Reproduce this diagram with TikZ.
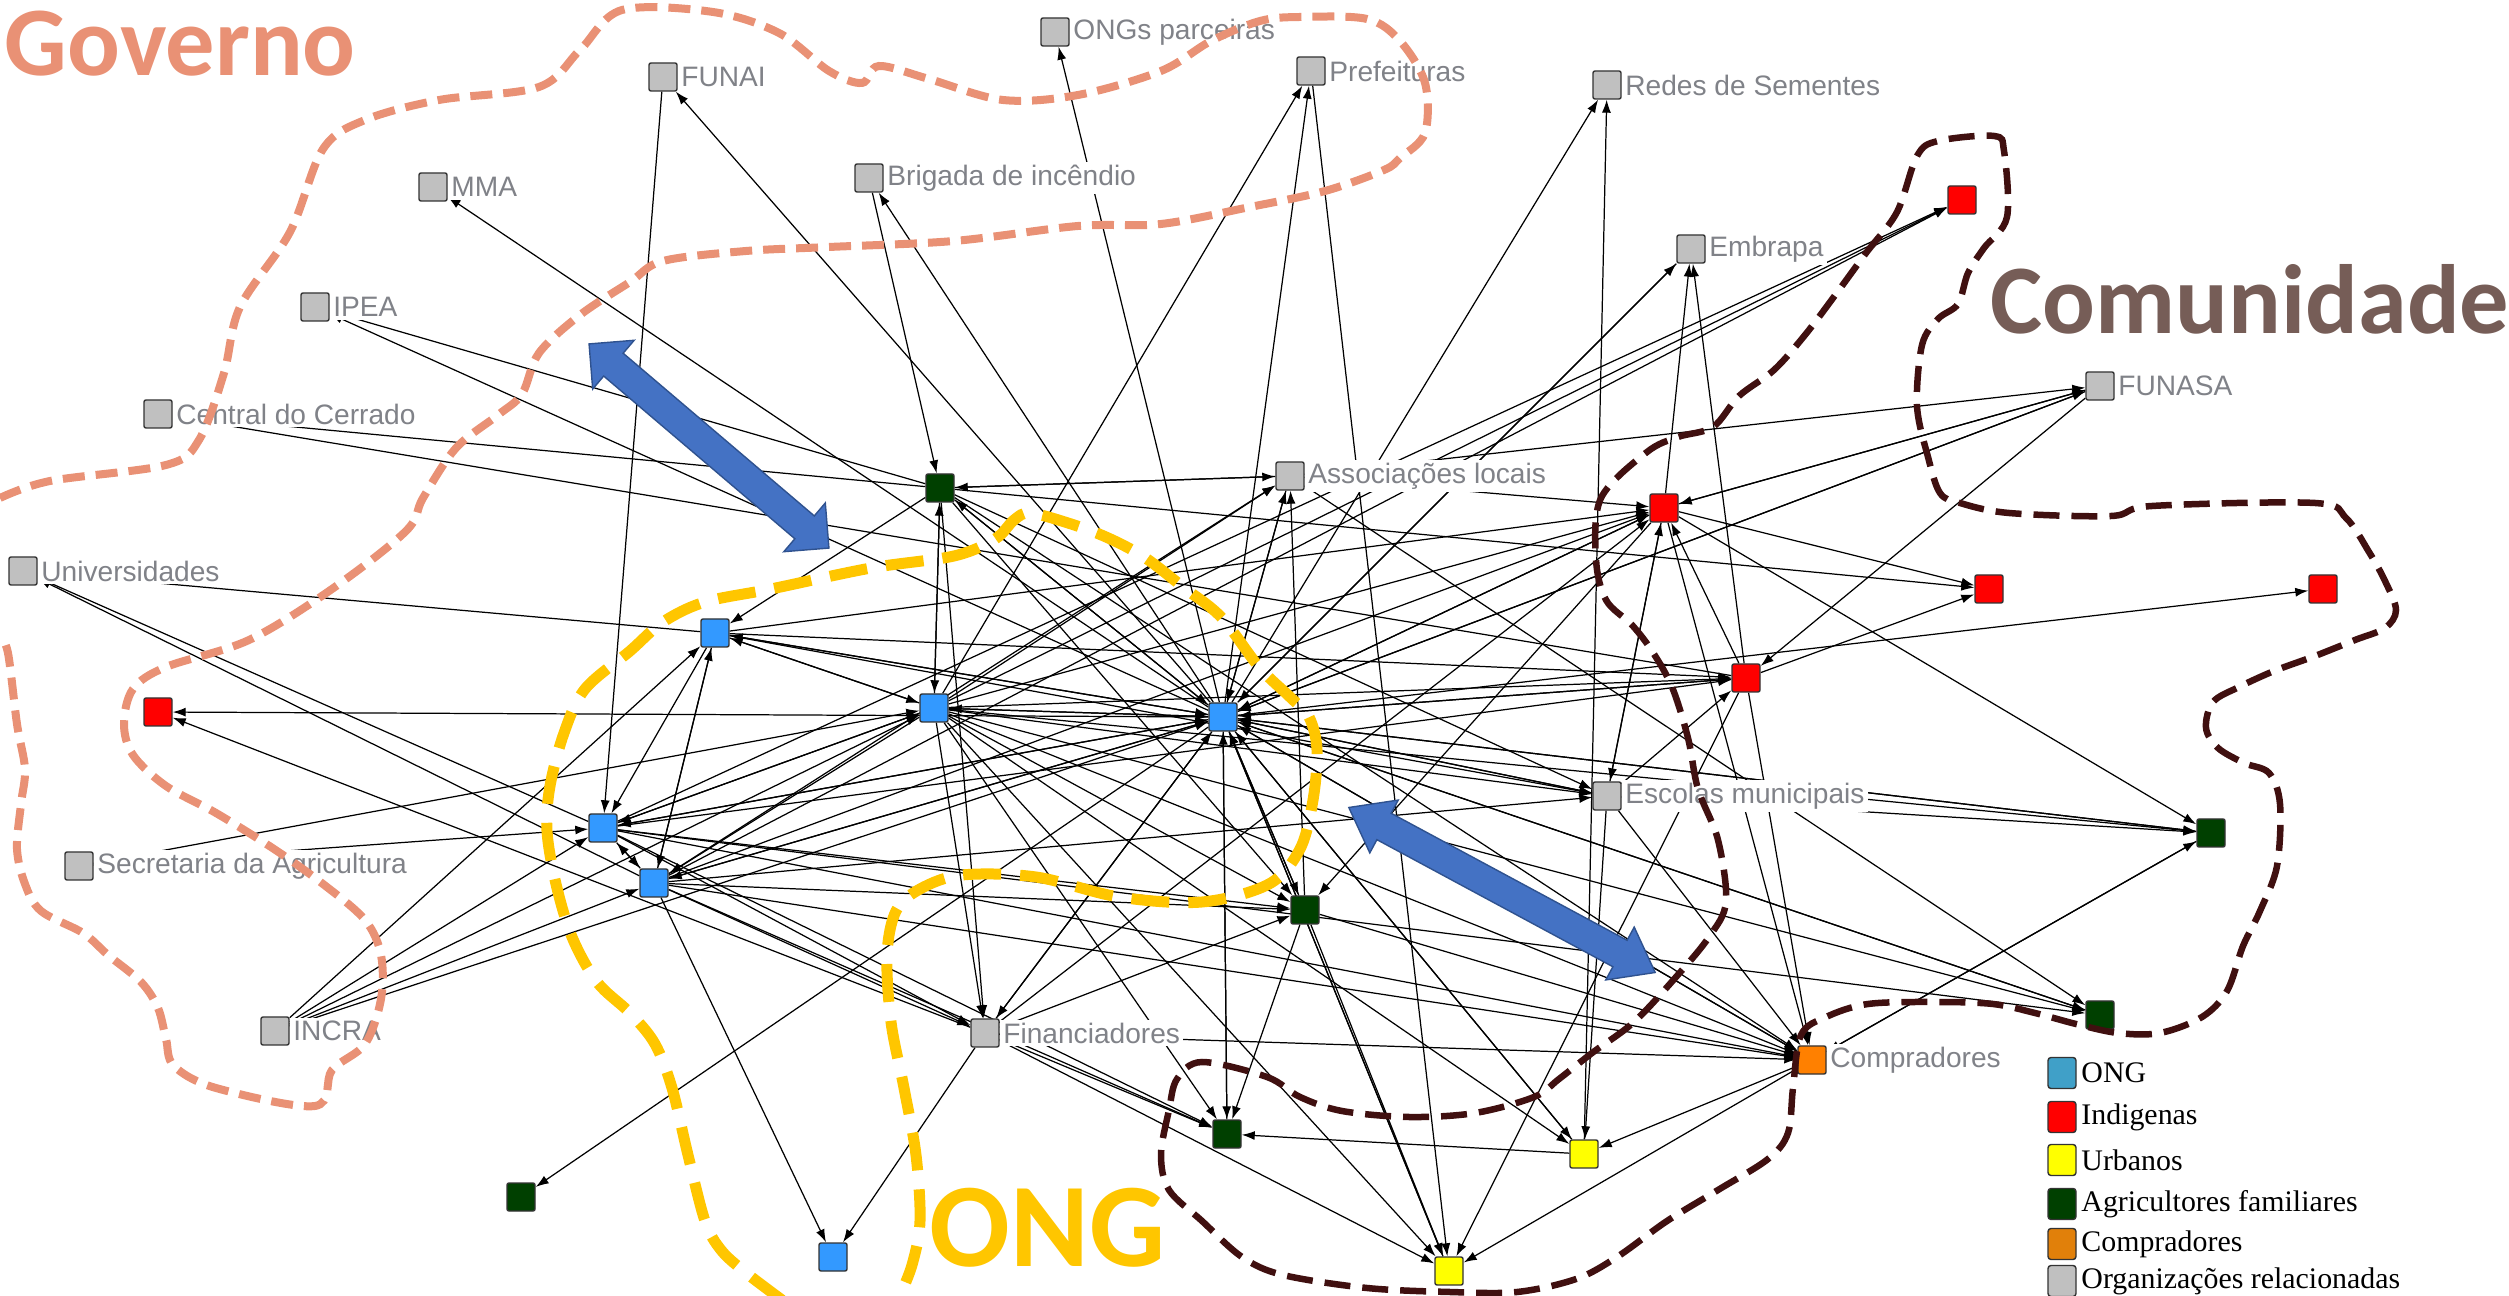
\documentclass[tikz,border=0pt]{standalone}
\usepackage{fontspec}
\setmainfont{Liberation Sans}
\newfontfamily\calibrifont{Carlito}
\newfontfamily\keyfont{Liberation Serif}
\usetikzlibrary{arrows.meta}
\pgfdeclarelayer{background}
\pgfsetlayers{background,main}

\definecolor{ongblue}{RGB}{51,153,255}
\definecolor{indred}{RGB}{255,0,0}
\definecolor{urbyellow}{RGB}{255,255,0}
\definecolor{agrgreen}{RGB}{0,64,0}
\definecolor{buyorange}{RGB}{255,128,0}
\definecolor{orggray}{RGB}{192,192,192}
\definecolor{keyblue}{RGB}{64,160,200}
\definecolor{keyorange}{RGB}{225,128,10}
\definecolor{labelgray}{RGB}{128,130,136}
\definecolor{govsalmon}{RGB}{233,145,117}
\definecolor{onggold}{RGB}{255,198,0}
\definecolor{combrown}{RGB}{64,16,16}
\definecolor{comtext}{RGB}{118,93,87}
\definecolor{arrowfill}{RGB}{68,114,196}
\definecolor{arrowline}{RGB}{47,82,143}

\tikzset{
  actor/.style={rectangle, draw=black!80, line width=0.4pt, minimum size=2.8mm, inner sep=0pt, rounded corners=0.2mm},
  ongnode/.style={actor, fill=ongblue},
  indnode/.style={actor, fill=indred},
  urbnode/.style={actor, fill=urbyellow},
  agrnode/.style={actor, fill=agrgreen},
  buynode/.style={actor, fill=buyorange},
  orgnode/.style={actor, fill=orggray},
  orgname/.style={font=\fontsize{8}{9.6}\selectfont, text=labelgray, fill=white, inner sep=0.3mm},
  keybox/.style={actor, minimum width=2.8mm, minimum height=3.1mm, rounded corners=0.3mm},
  keyname/.style={font=\keyfont\fontsize{8.5}{10}\selectfont, inner sep=0.4mm},
  link/.style={line width=0.35pt, -{Latex[length=1.3mm,width=0.9mm]}},
  govline/.style={draw=govsalmon, line width=0.8mm, dash pattern=on 2.2mm off 1.1mm},
  ongline/.style={draw=onggold, line width=1.1mm, dash pattern=on 3.8mm off 1.9mm},
  comline/.style={draw=combrown, line width=0.65mm, dash pattern=on 2.6mm off 1.2mm},
  bigarrow/.style={fill=arrowfill, draw=arrowline, line width=0.4pt},
  groupname/.style={font=\calibrifont\bfseries, anchor=base west, inner sep=0pt}
}

\newcommand{\orgat}[3]{\node[orgnode, label={[orgname]right:#3}] (#1) at (#2) {};}
\newcommand{\fatarrow}[6]{%
  \filldraw[bigarrow, shift={(#1)}, rotate=#2]
    ({-#3/2},0) -- ({-#3/2+#4},#5) -- ({-#3/2+#4},#6) -- ({#3/2-#4},#6) -- ({#3/2-#4},#5)
    -- ({#3/2},0) -- ({#3/2-#4},-#5) -- ({#3/2-#4},-#6) -- ({-#3/2+#4},-#6) -- ({-#3/2+#4},-#5) -- cycle;}

\begin{document}
\begin{tikzpicture}[x=0.1mm,y=-0.1mm]
\useasboundingbox (0,0) rectangle (2509,1296);

\orgat{ongpar}{1055,32}{ONGs parceiras}
\orgat{funai}{663,77}{FUNAI}
\orgat{pref}{1311,71}{Prefeituras}
\orgat{redes}{1607,85}{Redes de Sementes}
\orgat{mma}{433,187}{MMA}
\orgat{brigada}{869,178}{Brigada de incêndio}
\orgat{embrapa}{1691,249}{Embrapa}
\orgat{ipea}{315,307}{IPEA}
\orgat{funasa}{2100,386}{FUNASA}
\orgat{central}{158,414}{Central do Cerrado}
\orgat{assoc}{1290,476}{Associações locais}
\orgat{univ}{23,571}{Universidades}
\orgat{escolas}{1607,796}{Escolas municipais}
\orgat{secret}{79,866}{Secretaria da Agricultura}
\orgat{incra}{275,1031}{INCRA}
\orgat{financ}{985,1033}{Financiadores}
\node[buynode, label={[orgname]right:Compradores}] (compr) at (1812,1060) {};

\node[indnode] (ind1) at (1962,200) {};
\node[indnode] (ind2) at (1664,508) {};
\node[indnode] (ind3) at (1989,589) {};
\node[indnode] (ind4) at (2323,589) {};
\node[indnode] (ind5) at (1746,678) {};
\node[indnode] (ind6) at (158,712) {};

\node[ongnode] (ong1) at (715,633) {};
\node[ongnode] (ong2) at (934,708) {};
\node[ongnode] (ong3) at (1223,717) {};
\node[ongnode] (ong4) at (603,828) {};
\node[ongnode] (ong5) at (654,883) {};
\node[ongnode] (ong6) at (833,1257) {};

\node[agrnode] (agr1) at (940,488) {};
\node[agrnode] (agr2) at (1305,910) {};
\node[agrnode] (agr3) at (2211,833) {};
\node[agrnode] (agr4) at (2100,1015) {};
\node[agrnode] (agr5) at (1227,1134) {};
\node[agrnode] (agr6) at (521,1197) {};

\node[urbnode] (urb1) at (1584,1154) {};
\node[urbnode] (urb2) at (1449,1271) {};

\begin{pgfonlayer}{background}
\foreach \from/\to in {
  ong3/funai, funai/ong4, ong3/mma, agr1/ipea, ong3/ipea, agr1/central, ind5/central,
  ong4/univ, ong5/univ, ong1/univ, ong3/ind6, financ/ind6, secret/ong2, secret/ong4,
  incra/ong1, incra/ong4, incra/ong5, incra/ong2, incra/ong3, brigada/agr1, ong3/brigada,
  ong3/ongpar, ong2/pref, ong3/pref, pref/urb2, urb1/redes, ong3/redes,
  ind2/embrapa, ind5/embrapa, ong3/embrapa,
  assoc/funasa, ind2/funasa, funasa/ind2, ong3/funasa, funasa/ind5,
  ong4/ind1, ong5/ind1, ong2/ind1, ind2/ind3, agr1/ind3, ind5/ind3, ong3/ind4,
  assoc/ind2, ong3/ind2, ong2/ind2, ong1/ind2, ong5/ind2, escolas/ind2, ind2/escolas,
  ind5/ind2, ind2/agr3, ind2/compr, ind2/ong3,
  escolas/ind5, ong3/ind5, ong2/ind5, ong1/ind5, ind5/compr, ong4/ind5,
  ong3/escolas, ong2/escolas, ong1/escolas, ong5/escolas, agr1/escolas, escolas/agr3, escolas/urb1,
  ong3/agr3, ong2/agr3, compr/agr3, agr3/compr,
  ong3/agr4, ong2/agr4, assoc/agr4, ong4/agr4,
  ong3/assoc, agr1/assoc, assoc/agr1, ong2/assoc, ong5/assoc, agr2/assoc, assoc/ong3,
  ong3/agr1, agr1/ong3, agr1/ong2, ong2/agr1, agr1/ong1, agr1/financ, agr1/compr, agr1/agr2,
  ong2/ong1, ong1/ong2, ong3/ong1, ong1/ong3, ong1/ong4, ong1/ong5, ong5/ong1,
  ong2/ong4, ong2/ong5, ong4/ong2, ong3/ong4, ong3/ong5, ong5/ong3, ong4/ong3,
  ong4/ong5, ong5/ong4, ong3/ong2, ong2/ong3,
  ong5/financ, ong4/financ, ong3/financ, financ/ong3, ong2/financ, financ/ong6, ong5/ong6,
  financ/agr5, financ/compr, financ/urb2, financ/ind2, financ/agr2,
  ong3/agr5, agr2/agr5, urb1/agr5, ong5/agr5, ong2/agr5, ong4/agr5,
  ong3/agr2, ong4/agr2, ong5/agr2, ind2/agr2, agr2/urb2, agr2/compr, ong2/agr2,
  ong5/compr, ong2/compr, ong3/compr, ong4/compr, compr/urb1, compr/urb2, escolas/compr,
  ong3/urb1, ong2/urb1, ong3/urb2, ong2/urb2, ind5/urb2, ong3/agr6,
  escolas/ong3, agr2/ong3, compr/ong3, agr5/ong3, urb2/ong3, ind5/ong3, agr3/ong3,
  funasa/ong3, embrapa/ong3, agr4/ong3, urb1/ong3}
  \draw[link] (\from) -- (\to);
\end{pgfonlayer}

\draw[govline] plot[smooth, tension=0.55] coordinates {(0,498) (50,481) (166,465) (199,440) (224,373) (240,307) (290,232) (323,149) (365,120) (439,100) (539,87) (580,50) (622,10) (713,12) (779,33) (829,71) (862,83) (879,66) (929,79) (1003,100) (1078,95) (1161,71) (1211,41) (1260,21) (1300,17) (1367,19) (1400,41) (1425,83) (1425,133) (1400,158) (1384,170) (1325,191) (1250,207) (1161,224) (1078,226) (954,241) (829,247) (746,251) (663,261) (630,282) (580,315) (539,353) (522,394) (498,415) (456,448) (423,498) (406,531) (332,589) (249,640) (166,667) (133,689) (124,724) (133,755) (166,786) (216,813) (274,849) (323,884) (365,920) (381,955) (381,999) (365,1044) (332,1070) (315,1106) (216,1088) (174,1066) (166,1039) (158,1008) (141,982) (108,955) (83,933) (41,911) (25,884) (17,849) (21,804) (25,769) (17,724) (8,653) (0,636)};

\draw[ongline] plot[smooth, tension=0.55] coordinates {(782,1300) (745,1272) (721,1250) (705,1221) (688,1155) (672,1088) (655,1044) (630,1013) (597,982) (572,937) (556,884) (547,831) (550,786) (564,733) (585,689) (630,651) (663,622) (705,602) (771,589) (871,568) (954,556) (995,539) (1014,520) (1030,513) (1068,523) (1106,537) (1144,557) (1183,587) (1221,617) (1259,667) (1290,697) (1309,717) (1317,750) (1313,800) (1300,849) (1269,884) (1202,902) (1119,897) (1036,877) (962,875) (920,889) (896,911) (887,955) (891,1022) (904,1088) (916,1155) (920,1221) (912,1265) (898,1300)};

\draw[comline] plot[smooth cycle, tension=0.55] coordinates {(1938,141) (1994,136) (2004,151) (2007,217) (1984,248) (1968,273) (1958,304) (1938,319) (1922,345) (1917,406) (1928,457) (1940,493) (1960,503) (2009,513) (2111,516) (2152,506) (2315,503) (2346,518) (2369,552) (2385,581) (2396,610) (2385,628) (2355,640) (2315,656) (2274,671) (2239,687) (2213,702) (2206,728) (2218,748) (2244,763) (2269,773) (2280,804) (2277,866) (2260,911) (2243,946) (2227,991) (2202,1017) (2160,1033) (2118,1033) (2076,1024) (2035,1013) (1993,1004) (1935,1002) (1868,1004) (1826,1017) (1801,1035) (1793,1088) (1788,1133) (1768,1159) (1718,1190) (1667,1221) (1617,1257) (1576,1279) (1517,1292) (1450,1292) (1367,1288) (1283,1275) (1242,1257) (1202,1221) (1169,1190) (1161,1155) (1169,1110) (1177,1079) (1202,1062) (1267,1077) (1300,1097) (1342,1111) (1409,1117) (1475,1113) (1534,1097) (1559,1079) (1592,1053) (1634,1022) (1676,977) (1709,937) (1726,902) (1718,840) (1698,789) (1688,738) (1672,687) (1652,651) (1632,625) (1606,600) (1596,559) (1601,498) (1647,452) (1678,437) (1713,427) (1739,396) (1774,370) (1805,335) (1836,294) (1866,253) (1897,212) (1917,156)};

\fatarrow{709,446}{-40.4}{315}{32}{32}{15}
\fatarrow{1502,890}{-28.3}{348}{40}{30}{15}

\node[groupname, text=govsalmon, font=\calibrifont\bfseries\fontsize{28}{32}\selectfont] (governo) at (4,76) {Governo};
\node[groupname, text=comtext, font=\calibrifont\bfseries\fontsize{28}{32}\selectfont] (comunidade) at (1990,334) {Comunidade};
\node[groupname, text=onggold, font=\calibrifont\bfseries\fontsize{34}{38}\selectfont] (ongname) at (929,1266) {ONG};

\node[keybox, fill=keyblue, label={[keyname]right:ONG}] (key1) at (2062,1073) {};
\node[keybox, fill=indred, label={[keyname]right:Indigenas}] (key2) at (2062,1117) {};
\node[keybox, fill=urbyellow, label={[keyname]right:Urbanos}] (key3) at (2062,1160) {};
\node[keybox, fill=agrgreen, label={[keyname]right:Agricultores familiares}] (key4) at (2062,1204) {};
\node[keybox, fill=keyorange, label={[keyname]right:Compradores}] (key5) at (2062,1244) {};
\node[keybox, fill=orggray, label={[keyname]right:Organizações relacionadas}] (key6) at (2062,1281) {};
\end{tikzpicture}
\end{document}
